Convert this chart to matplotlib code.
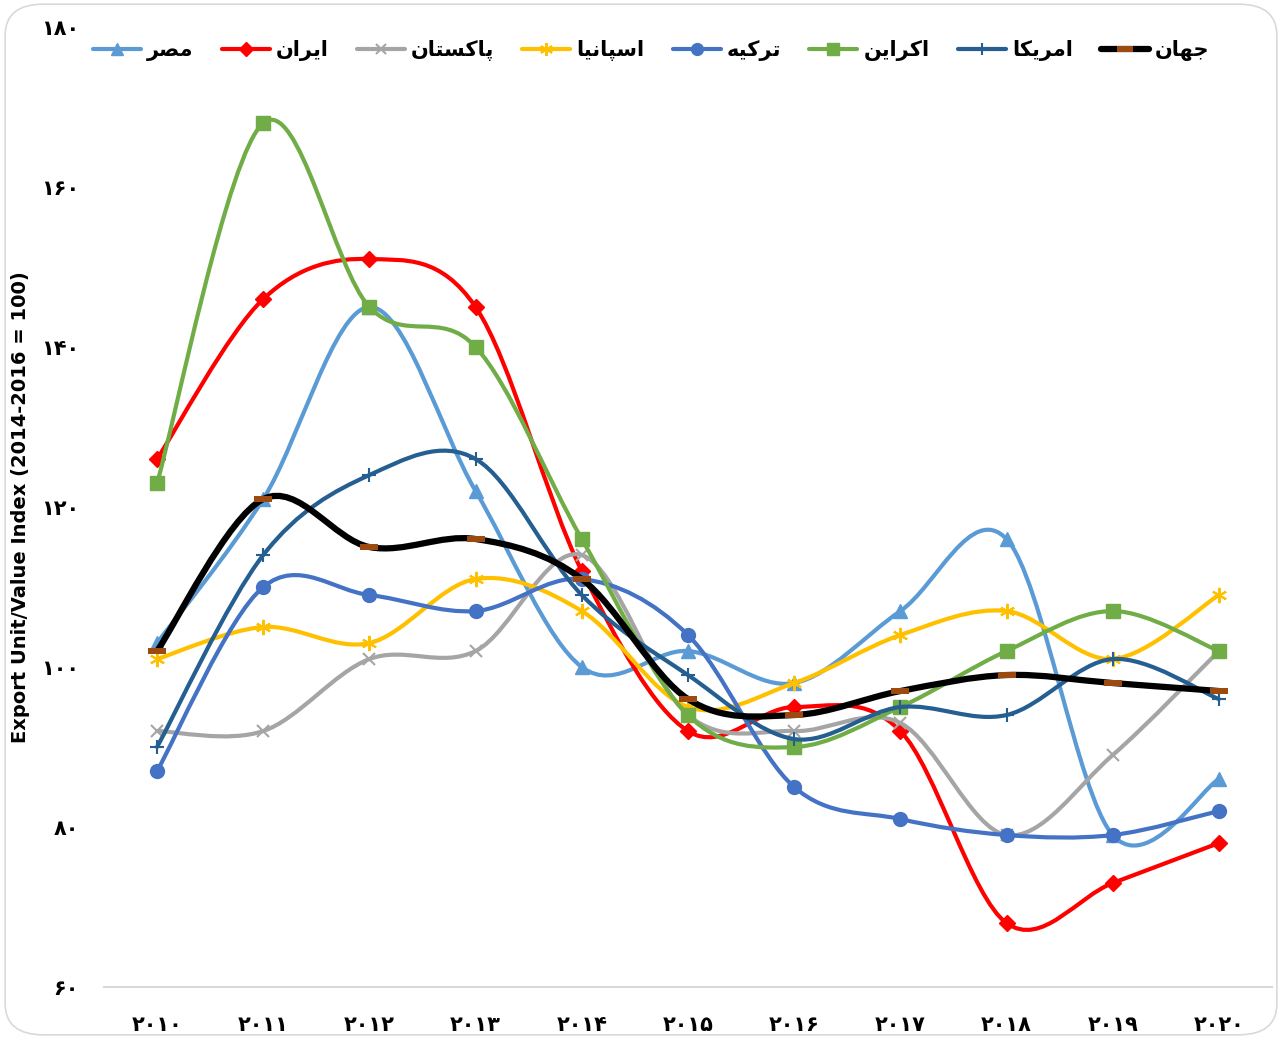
import matplotlib
matplotlib.use("Agg")
import matplotlib.pyplot as plt
from matplotlib.path import Path
from matplotlib.patches import PathPatch, FancyBboxPatch
from matplotlib.lines import Line2D
import numpy as np

# ---------------------------------------------------------
# data
# ---------------------------------------------------------
years = [2010, 2011, 2012, 2013, 2014, 2015, 2016, 2017, 2018, 2019, 2020]
y_ticks = [60, 80, 100, 120, 140, 160, 180]

names = ['مصر', 'ایران', 'پاکستان', 'اسپانیا', 'ترکیه', 'اکراین', 'امریکا', 'جهان']

egypt    = [103.0, 121.0, 145.0, 122.0, 100.0, 102.0, 98.0, 107.0, 116.0, 79.0, 86.0]
iran     = [126.0, 146.0, 151.0, 145.0, 112.0, 92.0, 95.0, 92.0, 68.0, 73.0, 78.0]
pakistan = [92.0, 92.0, 101.0, 102.0, 114.0, 94.0, 92.0, 93.0, 79.0, 89.0, 102.0]
spain    = [101.0, 105.0, 103.0, 111.0, 107.0, 95.0, 98.0, 104.0, 107.0, 101.0, 109.0]
turkey   = [87.0, 110.0, 109.0, 107.0, 111.0, 104.0, 85.0, 81.0, 79.0, 79.0, 82.0]
ukraine  = [123.0, 168.0, 145.0, 140.0, 116.0, 94.0, 90.0, 95.0, 102.0, 107.0, 102.0]
usa      = [90.0, 114.0, 124.0, 126.0, 109.0, 99.0, 91.0, 95.0, 94.0, 101.0, 96.0]
world    = [102.0, 121.0, 115.0, 116.0, 111.0, 96.0, 94.0, 97.0, 99.0, 98.0, 97.0]

series = [egypt, iran, pakistan, spain, turkey, ukraine, usa, world]

# ---------------------------------------------------------
# helpers
# ---------------------------------------------------------
FA_DIGITS = str.maketrans('0123456789', '۰۱۲۳۴۵۶۷۸۹')

# presentation forms: isolated, final, initial, medial
FORMS = {
    'ا': ('\uFE8D', '\uFE8E', None, None),
    'ر': ('\uFEAD', '\uFEAE', None, None),
    'پ': ('\uFB56', '\uFB57', '\uFB58', '\uFB59'),
    'ت': ('\uFE95', '\uFE96', '\uFE97', '\uFE98'),
    'ج': ('\uFE9D', '\uFE9E', '\uFE9F', '\uFEA0'),
    'س': ('\uFEB1', '\uFEB2', '\uFEB3', '\uFEB4'),
    'ص': ('\uFEB9', '\uFEBA', '\uFEBB', '\uFEBC'),
    'ک': ('\uFB8E', '\uFB8F', '\uFB90', '\uFB91'),
    'م': ('\uFEE1', '\uFEE2', '\uFEE3', '\uFEE4'),
    'ن': ('\uFEE5', '\uFEE6', '\uFEE7', '\uFEE8'),
    'ه': ('\uFEE9', '\uFEEA', '\uFEEB', '\uFEEC'),
    'ی': ('\uFBFC', '\uFBFD', '\uFBFE', '\uFBFF'),
}


def shape_fa(word):
    out = []
    for i, ch in enumerate(word):
        iso, fin, ini, med = FORMS[ch]
        prev_joins = i > 0 and FORMS[word[i - 1]][2] is not None
        next_exists = i < len(word) - 1
        can_join_next = ini is not None and next_exists
        if prev_joins and can_join_next:
            out.append(med)
        elif prev_joins:
            out.append(fin)
        elif can_join_next:
            out.append(ini)
        else:
            out.append(iso)
    return ''.join(reversed(out))


def smooth_path(xs, ys):
    # excel-like smoothed line: catmull-rom as cubic bezier
    pts = np.column_stack([xs, ys]).astype(float)
    n = len(pts)
    verts = [pts[0]]
    codes = [Path.MOVETO]
    for i in range(n - 1):
        p0 = pts[i - 1] if i > 0 else pts[i]
        p1 = pts[i]
        p2 = pts[i + 1]
        p3 = pts[i + 2] if i + 2 < n else pts[i + 1]
        c1 = p1 + (p2 - p0) / 6.0
        c2 = p2 - (p3 - p1) / 6.0
        verts += [c1, c2, p2]
        codes += [Path.CURVE4] * 3
    return Path(verts, codes)


# ---------------------------------------------------------
# styles
# ---------------------------------------------------------
colors = ['#5B9BD5', '#FF0000', '#A5A5A5', '#FFC000', '#4472C4', '#70AD47', '#255E91', '#000000']
dash_marker = Path([(-1, -0.35), (1, -0.35), (1, 0.35), (-1, 0.35), (-1, -0.35)],
                   [Path.MOVETO, Path.LINETO, Path.LINETO, Path.LINETO, Path.CLOSEPOLY])
markers = ['^', 'D', 'x', (6, 2, 0), 'o', 's', '+', dash_marker]
msizes = [10, 8, 9, 11, 10, 10, 10, 13]
mew = [1, 1, 1.5, 1.5, 1, 1, 1.5, 0]
mfc = colors[:7] + ['#9C4A0F']
lws = [3, 3, 3, 3, 3, 3, 3, 4.5]

fig = plt.figure(figsize=(12.82, 10.39), dpi=100)
fig.patches.append(FancyBboxPatch((0.004, 0.004), 0.992, 0.992,
                                  boxstyle='round,pad=0,rounding_size=0.03',
                                  transform=fig.transFigure, facecolor='white',
                                  edgecolor='#D9D9D9', linewidth=1.2, zorder=-10))

ax = fig.add_axes([0.0811, 0.050, 0.9111, 0.924])
ax.patch.set_alpha(0)

x = np.arange(len(years))
handles = []
for k, vals in enumerate(series):
    z = 3 + k
    ax.add_patch(PathPatch(smooth_path(x, vals), facecolor='none', edgecolor=colors[k],
                           lw=lws[k], capstyle='round', joinstyle='round', zorder=z))
    ax.plot(x, vals, linestyle='none', marker=markers[k], ms=msizes[k],
            color=colors[k], mfc=mfc[k], mec=colors[k] if k < 7 else mfc[k],
            mew=mew[k], zorder=z + 0.5)
    handles.append(Line2D([0], [0], color=colors[k], lw=lws[k], marker=markers[k],
                          ms=msizes[k] * 0.85, mfc=mfc[k], mec=colors[k] if k < 7 else mfc[k],
                          mew=mew[k], solid_capstyle='round'))

ax.set_xlim(-0.5, len(years) - 0.5)
ax.set_ylim(60, 180)
ax.set_xticks(x)
ax.set_xticklabels([str(v).translate(FA_DIGITS) for v in years])
ax.set_yticks(y_ticks)
ax.set_yticklabels([str(v).translate(FA_DIGITS) for v in y_ticks])
for lab in ax.get_xticklabels() + ax.get_yticklabels():
    lab.set_fontweight('bold')
    lab.set_fontsize(15)
    lab.set_family('DejaVu Sans')
ax.tick_params(axis='both', length=0)
ax.tick_params(axis='x', pad=20)
ax.tick_params(axis='y', pad=18)

for side in ['top', 'right', 'left']:
    ax.spines[side].set_visible(False)
ax.spines['bottom'].set_color('#D9D9D9')
ax.spines['bottom'].set_linewidth(1.5)

ax.set_ylabel('Export Unit/Value Index (2014-2016 = 100)', fontsize=14, fontweight='bold',
              family='DejaVu Sans', labelpad=8)

fig.legend(handles, [shape_fa(n) for n in names], loc='center', ncol=8,
           bbox_to_anchor=(0.508, 0.951), frameon=False, handlelength=2.3,
           handletextpad=0.3, columnspacing=1.35, numpoints=1,
           prop={'family': 'DejaVu Sans', 'weight': 'bold', 'size': 15})

fig.savefig('out.png', dpi=100)
